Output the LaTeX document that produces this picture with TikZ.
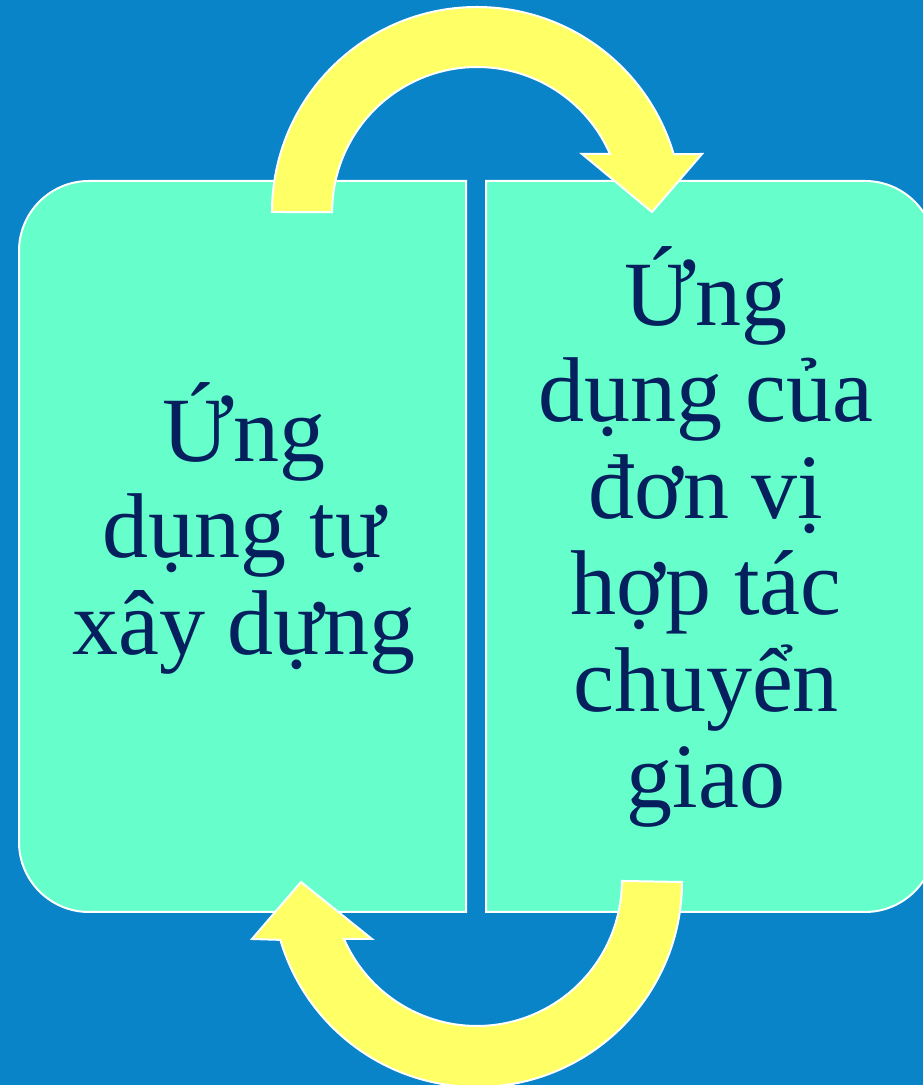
\documentclass[tikz,border=0pt]{standalone}
\usepackage{fontspec}
\setmainfont{Liberation Serif}
\usepackage{xcolor}
\definecolor{sblue}{HTML}{0984C9}
\definecolor{saqua}{HTML}{66FFCC}
\definecolor{syellow}{HTML}{FFFF66}
\definecolor{snavy}{HTML}{06205E}
\usetikzlibrary{calc,positioning}
\tikzstyle{l2}=[line width=2pt]
\tikzstyle{panel}=[l2, draw=white, fill=saqua]
\tikzstyle{turn}=[l2, draw=white, fill=syellow, line join=miter]
\tikzstyle{label}=[align=center, text=snavy, inner sep=0pt, font=\fontsize{92}{96.5}\selectfont]

\begin{document}
\begin{tikzpicture}[x=1pt, y=1pt]
    \clip (0,0) rectangle (923,1085);
    \fill[sblue] (0,0) rectangle (923,1085);

    % two panels, rounded on the outer side only
    \draw[panel] (466,173) -- (466,904) -- (89,904)
        arc[start angle=90, end angle=180, radius=70pt] -- (19,243)
        arc[start angle=180, end angle=270, radius=70pt] -- cycle;
    \draw[panel] (486,173) -- (486,904) -- (865,904)
        arc[start angle=90, end angle=0, radius=70pt] -- (935,243)
        arc[start angle=0, end angle=-90, radius=70pt] -- cycle;

    \node (selfapp) [label] at (244,557) {Ứng\\dụng tự\\xây dựng};
    \node (partnerapp) [label] at (706,548) {Ứng\\dụng của\\đơn vị\\hợp tác\\chuyển\\giao};

    % curved arrows
    \draw[turn] (272,873) arc[start angle=180, end angle=16.4, radius=205pt]
        -- (702,931) -- (652,873) -- (582,931) -- (610,931)
        arc[start angle=23.6, end angle=180, radius=145pt] -- cycle;
    \draw[turn] (682,203) arc[start angle=0, end angle=-163.6, radius=205pt]
        -- (252,146) -- (301,203) -- (372,146) -- (344,146)
        arc[start angle=-156.4, end angle=0, radius=145pt] -- cycle;
\end{tikzpicture}
\end{document}
